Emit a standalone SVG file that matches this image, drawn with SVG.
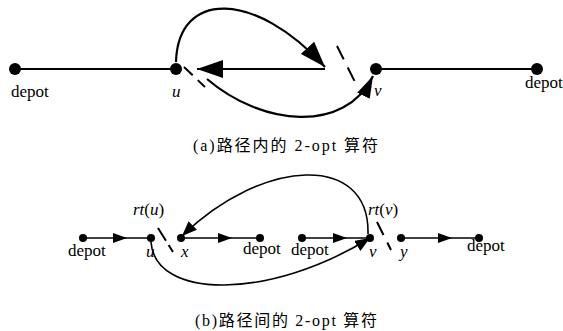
<svg xmlns="http://www.w3.org/2000/svg" width="563" height="331" viewBox="0 0 563 331">
<defs>
<style>
.lbl{font-family:"Liberation Serif","Times New Roman",serif;font-size:17px;fill:#000}
.it{font-style:italic}
.cap{font-family:"Liberation Serif","Noto Sans CJK SC",serif;font-size:16px;fill:#000}
.ea{stroke:#000;stroke-width:2.2;fill:none}
.eb{stroke:#000;stroke-width:1.6;fill:none}
.cut{stroke:#000;stroke-width:2;fill:none}
.dot{fill:#000}
</style>
<marker id="bigA" markerUnits="userSpaceOnUse" viewBox="0 0 26 18" refX="26" refY="9" markerWidth="26" markerHeight="18" orient="auto"><path d="M0,0 L26,9 L0,18 Z" fill="#000"/></marker>
<marker id="medA" markerUnits="userSpaceOnUse" viewBox="0 0 22 14" refX="22" refY="7" markerWidth="22" markerHeight="14" orient="auto"><path d="M0,0 L22,7 L0,14 Z" fill="#000"/></marker>
<marker id="bigB" markerUnits="userSpaceOnUse" viewBox="0 0 15 12" refX="15" refY="6" markerWidth="15" markerHeight="12" orient="auto"><path d="M0,0 L15,6 L0,12 Z" fill="#000"/></marker>
<marker id="smB" markerUnits="userSpaceOnUse" viewBox="0 0 14 10" refX="14" refY="5" markerWidth="14" markerHeight="10" orient="auto"><path d="M0,0 L14,5 L0,10 Z" fill="#000"/></marker>
</defs>
<rect width="563" height="331" fill="#fff"/>

<g id="connectors">
  <path class="ea" d="M15,69 L176,69"/>
  <path class="ea" d="M376,69 L537,69"/>
  <path class="ea" d="M176,62 C178,-10 255,-10 325,67" marker-end="url(#bigA)"/>
  <path class="ea" d="M325,69 L197,69" marker-end="url(#bigA)"/>
  <path class="ea" d="M207,79 C262,126 345,134 373,76" marker-end="url(#medA)"/>
  <path class="cut" d="M184,67 L205,87" stroke-dasharray="12,7"/>
  <path class="cut" d="M337,46 L355,82" stroke-dasharray="15,9"/>
  <path class="eb" d="M83,238 L127,238 L151,238" marker-mid="url(#smB)"/>
  <path class="eb" d="M181,238 L232,238 L260,238" marker-mid="url(#smB)"/>
  <path class="eb" d="M302,238 L347,238 L370,238" marker-mid="url(#smB)"/>
  <path class="eb" d="M401,238 L452,238 L479,238" marker-mid="url(#smB)"/>
  <path class="eb" d="M368,234 C370,152 262,158 182,236" marker-end="url(#bigB)"/>
  <path class="eb" d="M151,242 C155,300 270,300 370,238" marker-end="url(#bigB)"/>
  <path class="cut" d="M158,228 L173,252" stroke-dasharray="15,5"/>
  <path class="cut" d="M377,222 L391,250" stroke-dasharray="14.5,8.5"/>
</g>

<g id="depotA1"><circle class="dot" cx="15" cy="69" r="6"/><text class="lbl" x="11" y="97">depot</text></g>
<g id="uA"><circle class="dot" cx="176" cy="69" r="6"/><text class="lbl it" x="172" y="97">u</text></g>
<g id="vA"><circle class="dot" cx="376" cy="69" r="6"/><text class="lbl it" x="374" y="96">v</text></g>
<g id="depotA2"><circle class="dot" cx="537" cy="69" r="6"/><text class="lbl" x="525" y="88">depot</text></g>

<g id="depotB1"><circle class="dot" cx="83" cy="238" r="4"/><text class="lbl" x="68" y="256">depot</text></g>
<g id="uB"><circle class="dot" cx="151" cy="238" r="4"/><text class="lbl it" x="146" y="257">u</text><text class="lbl" x="133" y="215"><tspan class="it">rt</tspan>(<tspan class="it">u</tspan>)</text></g>
<g id="xB"><circle class="dot" cx="181" cy="238" r="4"/><text class="lbl it" x="181" y="257">x</text></g>
<g id="depotB2"><circle class="dot" cx="260" cy="238" r="4"/><text class="lbl" x="243" y="254">depot</text></g>
<g id="depotB3"><circle class="dot" cx="302" cy="238" r="4"/><text class="lbl" x="291" y="255">depot</text></g>
<g id="vB"><circle class="dot" cx="370" cy="238" r="4"/><text class="lbl it" x="369" y="257">v</text><text class="lbl" x="368" y="215"><tspan class="it">rt</tspan>(<tspan class="it">v</tspan>)</text></g>
<g id="yB"><circle class="dot" cx="401" cy="238" r="4"/><text class="lbl it" x="400" y="257">y</text></g>
<g id="depotB4"><circle class="dot" cx="479" cy="238" r="4"/><text class="lbl" x="467" y="251">depot</text></g>

<text class="cap" x="193" y="151" textLength="185" lengthAdjust="spacing">(a)路径内的 2-opt 算符</text>
<text class="cap" x="195" y="326" textLength="182" lengthAdjust="spacing">(b)路径间的 2-opt 算符</text>
</svg>
